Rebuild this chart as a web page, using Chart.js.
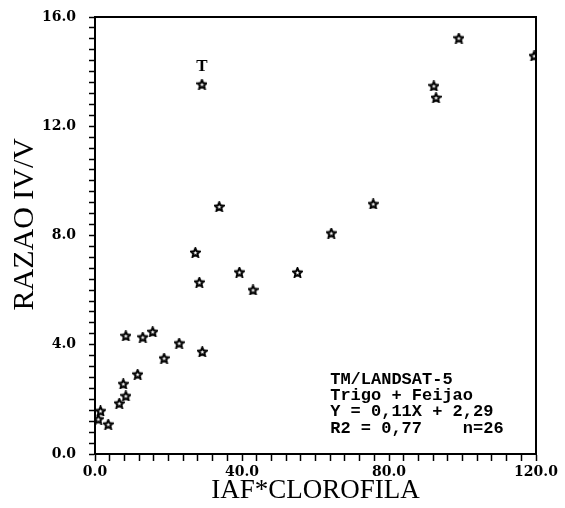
<!DOCTYPE html>
<html>
<head>
<meta charset="utf-8">
<script src="https://cdn.jsdelivr.net/npm/chart.js@4"></script>
<style>
html, body { margin: 0; padding: 0; background: #fff; }
</style>
</head>
<body>
<canvas id="scatterChart" width="565" height="508"></canvas>
<script>
// dados
const iafClorofila = [1.5, 0.9, 3.6, 6.6, 8.4, 7.7, 11.6, 8.4, 13.0, 15.7, 18.8, 22.9, 29.2,
  29.1, 33.8, 27.3, 75.7, 64.3, 28.4, 39.3, 55.1, 43.0, 99.0, 119.5, 92.2, 92.8];
const razaoIvV = [1.58, 1.28, 1.09, 1.86, 2.13, 2.57, 2.92, 4.33, 4.28, 4.48, 3.51, 4.06, 3.75,
  13.54, 9.06, 7.38, 9.16, 8.09, 6.29, 6.66, 6.65, 6.01, 15.23, 14.58, 13.48, 13.05];
const xTicks = [0, 40, 80, 120];
const yTicks = [0, 4, 8, 12, 16];
const infoLines = ['TM/LANDSAT-5', 'Trigo + Feijao', 'Y = 0,11X + 2,29', 'R2 = 0,77    n=26'];
const pointLabel = { text: 'T', x: 29.1, y: 14.2 };

function makeStar(size) {
  const c = document.createElement('canvas');
  c.width = size; c.height = size;
  const g = c.getContext('2d');
  const cx = size / 2, cy = size / 2 + 0.5, ro = size / 2 - 0.8, ri = ro * 0.46;
  g.beginPath();
  for (let i = 0; i < 10; i++) {
    const r = i % 2 ? ri : ro;
    const a = -Math.PI / 2 + i * Math.PI / 5;
    g.lineTo(cx + r * Math.cos(a), cy + r * Math.sin(a));
  }
  g.closePath();
  g.fillStyle = '#fff';
  g.fill();
  g.lineWidth = 2;
  g.strokeStyle = '#000';
  g.stroke();
  return c;
}

function onlyMajor(list) {
  return function (value) {
    const hit = list.some(v => Math.abs(v - value) < 1e-6);
    return hit ? Number(value).toFixed(1) : '';
  };
}

const tickFont = { family: 'DejaVu Serif', size: 14, weight: 'bold' };

const frameAndText = {
  id: 'frameAndText',
  afterDraw(chart) {
    const ctx = chart.ctx;
    const a = chart.chartArea;
    const xs = chart.scales.x, ys = chart.scales.y;
    ctx.save();
    ctx.strokeStyle = '#000';
    ctx.lineWidth = 2;
    ctx.strokeRect(a.left, a.top, a.right - a.left, a.bottom - a.top);

    ctx.fillStyle = '#000';
    ctx.font = 'bold 17px "Liberation Serif"';
    ctx.textAlign = 'center';
    ctx.textBaseline = 'middle';
    ctx.fillText(pointLabel.text, xs.getPixelForValue(pointLabel.x), ys.getPixelForValue(pointLabel.y));

    ctx.font = 'bold 17px "Liberation Mono"';
    ctx.textAlign = 'left';
    ctx.textBaseline = 'alphabetic';
    const x0 = xs.getPixelForValue(64.0);
    const y0 = ys.getPixelForValue(2.57);
    infoLines.forEach((line, i) => ctx.fillText(line, x0, y0 + i * 16.3));
    ctx.restore();
  }
};

new Chart(document.getElementById('scatterChart'), {
  type: 'scatter',
  data: {
    datasets: [{
      data: iafClorofila.map((x, i) => ({ x: x, y: razaoIvV[i] })),
      pointStyle: makeStar(11),
      pointRadius: 5.5,
      pointHoverRadius: 5.5
    }]
  },
  options: {
    responsive: false,
    devicePixelRatio: 1,
    animation: false,
    layout: { padding: { top: 17, right: 29, left: 0, bottom: 0 } },
    plugins: { legend: { display: false }, tooltip: { enabled: false } },
    scales: {
      x: {
        type: 'linear',
        min: 0,
        max: 120,
        afterFit(scale) { scale.height = 54; },
        border: { display: true, color: '#000', width: 2 },
        grid: { drawOnChartArea: false, tickLength: 7, tickColor: '#000', tickWidth: 1.5 },
        ticks: { stepSize: 4, autoSkip: false, maxRotation: 0, color: '#000', padding: 3,
          font: tickFont, callback: onlyMajor(xTicks) },
        title: { display: true, text: 'IAF*CLOROFILA', color: '#000',
          font: { family: 'Liberation Serif', size: 27 }, padding: { top: 0, bottom: 1 } }
      },
      y: {
        type: 'linear',
        min: 0,
        max: 16,
        afterFit(scale) {
          scale.width = 95;
          scale.paddingTop = 8;
          scale.paddingBottom = 8;
        },
        border: { display: true, color: '#000', width: 2 },
        grid: { drawOnChartArea: false, tickLength: 6, tickColor: '#000', tickWidth: 1.5 },
        ticks: { stepSize: 0.4, autoSkip: false, color: '#000', padding: 13,
          font: tickFont, callback: onlyMajor(yTicks) },
        title: { display: true, text: '   RAZAO IV/V', color: '#000',
          font: { family: 'Liberation Serif', size: 30 }, padding: { top: 7, bottom: 0 } }
      }
    }
  },
  plugins: [frameAndText]
});
</script>
</body>
</html>
